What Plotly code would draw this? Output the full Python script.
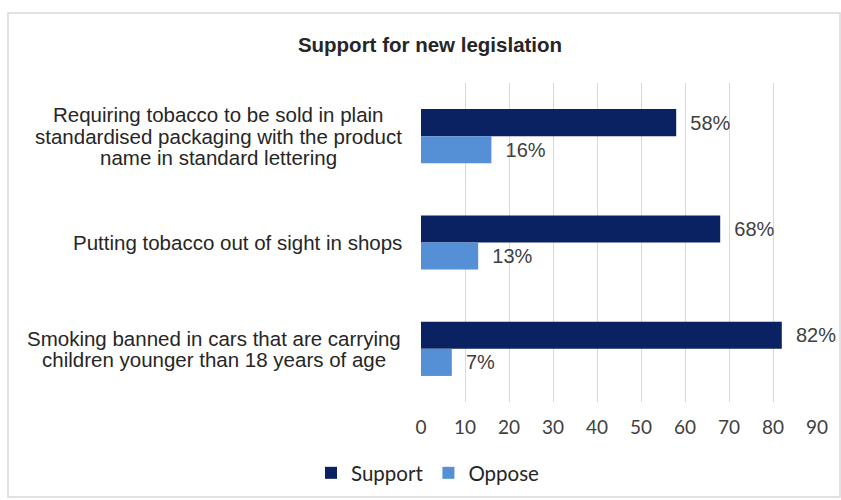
import plotly.graph_objects as go

categories = [
    "Requiring tobacco to be sold in plain<br>standardised packaging with the product<br>name in standard lettering",
    "Putting tobacco out of sight in shops",
    "Smoking banned in cars that are carrying<br>children younger than 18 years of age",
]
support = [58, 68, 82]
oppose = [16, 13, 7]
tick_vals = [0, 10, 20, 30, 40, 50, 60, 70, 80, 90]
series_names = ["Support", "Oppose"]

# layout constants (pixels)
W, H = 841, 500
ML, MR, MT, MB = 421, 24, 83, 98
PW = W - ML - MR
PH = H - MT - MB
label_centers_px = [218, 237, 214]
LINE_SP = 21.5

def px_to_paper_x(px):
    return (px - ML) / PW

def py_to_paper_y(py):
    return (H - MB - py) / PH

NAVY = "#0b2262"
LIGHT = "#5590d6"
TXT = "#262626"

fig = go.Figure()
fig.add_trace(go.Bar(
    y=categories, x=support, orientation="h", name=series_names[0],
    marker=dict(color=NAVY, line=dict(width=0)),
    texttemplate="\u00a0\u00a0%{x}%", textposition="outside",
    textfont=dict(family="Liberation Sans", size=20, color="#404040"),
    constraintext="none", cliponaxis=False,
))
fig.add_trace(go.Bar(
    y=categories, x=oppose, orientation="h", name=series_names[1],
    marker=dict(color=LIGHT, line=dict(width=0)),
    texttemplate="\u00a0\u00a0%{x}%", textposition="outside",
    textfont=dict(family="Liberation Sans", size=20, color="#404040"),
    constraintext="none", cliponaxis=False,
))

annotations = []
for ci, cat in enumerate(categories):
    lines = cat.split("<br>")
    n = len(lines)
    for li, line in enumerate(lines):
        annotations.append(dict(
            x=px_to_paper_x(label_centers_px[ci]), xref="paper",
            y=cat, yref="y",
            yshift=((n - 1) / 2 - li) * LINE_SP,
            text=line, showarrow=False, xanchor="center", yanchor="middle",
            font=dict(family="Liberation Sans", size=20.5, color=TXT),
        ))

fig.update_layout(
    width=W, height=H,
    margin=dict(l=ML, r=MR, t=MT, b=MB, pad=0),
    paper_bgcolor="white", plot_bgcolor="white",
    barmode="group", bargap=0.49, bargroupgap=0,
    title=dict(text="<b>Support for new legislation</b>", x=430 / W, xanchor="center",
               xref="container", y=1 - 45 / H, yanchor="middle", yref="container",
               font=dict(family="Liberation Sans", size=20.5, color=TXT)),
    xaxis=dict(range=[0, 90], tickvals=tick_vals, showgrid=True, gridcolor="#d9d9d9",
               gridwidth=1, zeroline=False, showline=False, ticks="",
               ticklabelstandoff=12,
               tickfont=dict(family="Lato", size=19, color="#404040")),
    yaxis=dict(categoryorder="array", categoryarray=categories, autorange="reversed",
               showticklabels=False, showgrid=False, zeroline=False, showline=False,
               ticks=""),
    legend=dict(orientation="h", x=428 / W, xref="container", xanchor="center",
                y=1 - 473 / H, yref="container", yanchor="middle",
                font=dict(family="Lato", size=20.5, color="#262626"),
                itemwidth=30, traceorder="normal"),
    annotations=annotations,
    shapes=[dict(type="rect", xref="paper", yref="paper",
                 x0=px_to_paper_x(8), x1=px_to_paper_x(840),
                 y0=py_to_paper_y(497), y1=py_to_paper_y(13),
                 line=dict(color="#d9d9d9", width=1.5), layer="below")],
    showlegend=True,
)

fig.write_html("out.html")
